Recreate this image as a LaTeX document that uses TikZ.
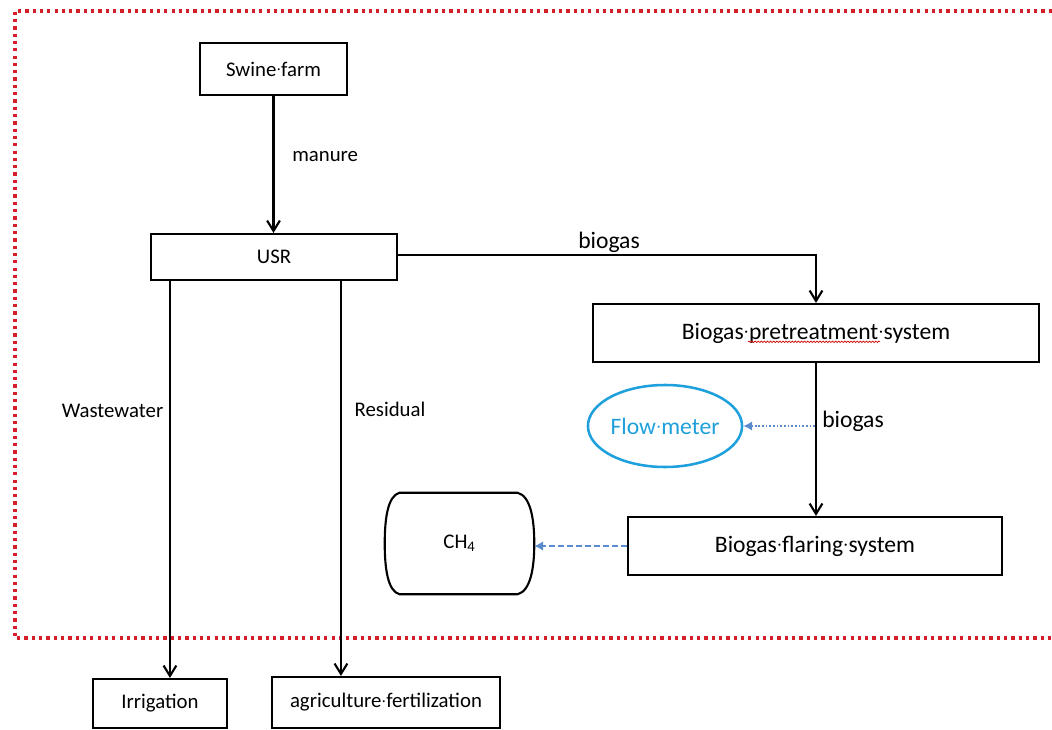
\documentclass[tikz,border=0pt]{standalone}
\usepackage{fontspec}
\setmainfont{Carlito}
\usetikzlibrary{arrows.meta, decorations.pathmorphing, shapes.geometric}
\definecolor{frameRed}{RGB}{214,30,42}
\definecolor{meterBlue}{RGB}{30,160,220}
\definecolor{arrowBlue}{RGB}{90,140,205}
\newcommand{\wdot}{\makebox[0.226em]{\raisebox{0.12em}{\scalebox{0.65}{·}}}}
\tikzset{
    box/.style={draw, line width=1.5pt, inner sep=0pt, font=\fontsize{14.8}{16}\selectfont},
    bigbox/.style={box, font=\fontsize{16.8}{18}\selectfont},
    lbl/.style={inner sep=0pt, font=\fontsize{14.8}{16}\selectfont},
    biglbl/.style={inner sep=0pt, font=\fontsize{16.8}{18}\selectfont},
    flow/.style={line width=1.5pt, -{Straight Barb[length=2.6mm,width=3.2mm]}},
    bluetip/.style={arrowBlue, line width=1.6pt, -{Latex[length=2.2mm,width=2.4mm]}},
    border/.style={frameRed, line width=2.6pt, dash pattern=on 2.3pt off 2.9pt},
    squiggle/.style={red!80!black, line width=0.5pt, decorate, decoration={snake, amplitude=0.5pt, segment length=2.2pt}}
}

\begin{document}
\begin{tikzpicture}
        \useasboundingbox (0,0) rectangle (26.3,-18.25);
        \draw[border] (26.3,-0.27) -- (0.37,-0.27) -- (0.37,-15.95) -- (26.3,-15.95);
        \node[box, minimum width=3.675cm, minimum height=1.3cm] (sf) at (6.8375,-1.725) {Swine\wdot farm};
        \node[box, minimum width=6.15cm, minimum height=1.15cm] (usr) at (6.85,-6.425) {USR};
        \node[bigbox, minimum width=11.15cm, minimum height=1.45cm] (pre) at (20.4,-8.325) {Biogas\wdot pretreatment\wdot system};
        \node[ellipse, draw=meterBlue, line width=1.8pt, inner sep=0pt, minimum width=3.35cm, minimum height=2.05cm, text=meterBlue, font=\fontsize{16.8}{18}\selectfont] (fm) at (16.625,-10.65) {Flow\wdot meter};
        \node[bigbox, minimum width=9.35cm, minimum height=1.45cm] (fl) at (20.375,-13.65) {Biogas\wdot flaring\wdot system};
        \node[lbl, minimum width=3.725cm, minimum height=2.525cm] (ch) at (11.4875,-13.5875) {CH\textsubscript{4}};
        \node[box, minimum width=3.35cm, minimum height=1.225cm] (irr) at (4.0,-17.5875) {Irrigation};
        \node[box, minimum width=5.7cm, minimum height=1.275cm] (agr) at (9.65,-17.5625) {agriculture\wdot fertilization};
        \draw[line width=1.5pt] ([xshift=0.37cm]ch.north west) -- ([xshift=-0.42cm]ch.north east)
            .. controls +(0.33,-0.08) and +(0,0.6) .. (ch.east)
            .. controls +(0,-0.6) and +(0.33,0.08) .. ([xshift=-0.42cm]ch.south east)
            -- ([xshift=0.37cm]ch.south west)
            .. controls +(-0.3,0.08) and +(0,-0.6) .. (ch.west)
            .. controls +(0,0.6) and +(-0.3,-0.08) .. cycle;
        \draw[squiggle] ([shift={(-1.7,-0.22)}]pre.center) -- ([shift={(1.6,-0.22)}]pre.center);
        \coordinate (ww) at ([xshift=0.5cm]usr.south west);
        \coordinate (rs) at ([xshift=4.775cm]usr.south west);
        \draw[flow] (sf.south) -- (sf.south |- usr.north);
        \draw[flow] ([yshift=0.05cm]usr.east) -| (pre.north);
        \draw[flow] (pre.south) -- (pre.south |- fl.north);
        \draw[flow] (ww) -- (ww |- irr.north);
        \draw[flow] (rs) -- (rs |- agr.north);
        \draw[bluetip, dash pattern=on 1.3pt off 1.3pt] (fl.north |- fm.east) -- (fm.east);
        \draw[bluetip, dash pattern=on 4pt off 2.4pt] (fl.west) -- (fl.west -| ch.east);
        \node[lbl, anchor=west] (manure) at (7.3,-3.925) {manure};
        \node[biglbl] (gas1) at (15.225,-6.05) {biogas};
        \node[biglbl, anchor=west] (gas2) at (20.55,-10.525) {biogas};
        \node[lbl] (waste) at (2.8125,-10.275) {Wastewater};
        \node[lbl] (resid) at (9.75,-10.225) {Residual};
\end{tikzpicture}
\end{document}
